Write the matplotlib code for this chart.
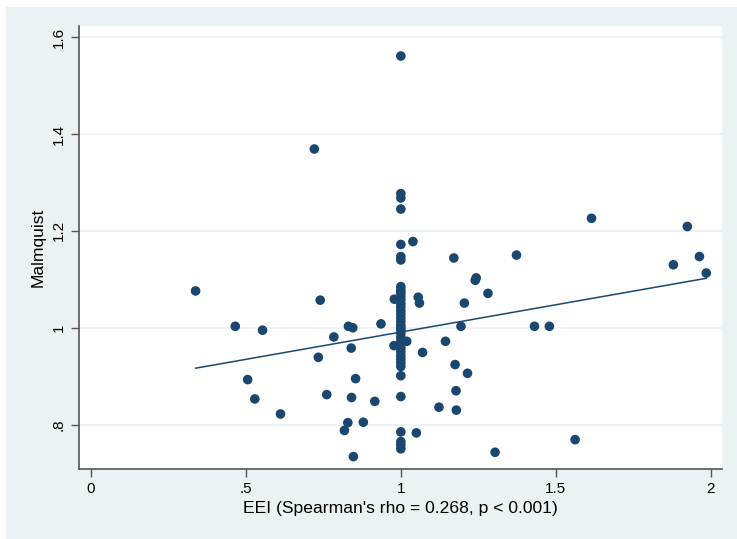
import matplotlib.pyplot as plt
import numpy as np
from matplotlib.patches import Rectangle

plt.rcParams["font.family"] = ["Liberation Sans", "DejaVu Sans"]

# EEI / Malmquist pairs
eei_scatter = [
    0.338, 0.466, 0.554, 0.506, 0.529, 0.612, 0.721, 0.740, 0.734, 0.784,
    0.831, 0.845, 0.840, 0.761, 0.854, 0.841, 0.916, 0.936, 0.829, 0.818,
    0.879, 0.847, 1.050, 1.056, 1.060, 1.070, 1.019, 1.144, 1.205, 1.194,
    1.171, 1.243, 1.240, 1.175, 1.215, 1.178, 1.123, 1.179, 1.039, 1.615,
    1.924, 1.963, 1.879, 1.985, 1.373, 1.281, 1.431, 1.479, 1.562, 1.304,
    0.979, 0.978,
]
malm_scatter = [
    1.076, 1.003, 0.995, 0.893, 0.853, 0.822, 1.369, 1.057, 0.939, 0.981,
    1.003, 1.000, 0.958, 0.862, 0.895, 0.856, 0.848, 1.008, 0.804, 0.788,
    0.805, 0.734, 0.783, 1.063, 1.051, 0.949, 0.972, 0.972, 1.051, 1.003,
    1.144, 1.103, 1.098, 0.924, 0.906, 0.870, 0.836, 0.830, 1.178, 1.226,
    1.209, 1.147, 1.130, 1.113, 1.150, 1.071, 1.003, 1.003, 0.769, 0.743,
    1.059, 0.963,
]
# units with EEI = 1
malm_at_one = [
    1.561, 1.277, 1.268, 1.245, 1.172, 1.147, 1.140, 1.085, 1.078, 1.072,
    1.065, 1.058, 1.050, 1.043, 1.035, 1.028, 1.020, 1.013, 1.005, 1.000,
    0.995, 0.988, 0.980, 0.972, 0.965, 0.958, 0.950, 0.942, 0.935, 0.928,
    0.920, 0.901, 0.858, 0.785, 0.765, 0.758, 0.750,
]

x_ticks = [0, 0.5, 1, 1.5, 2]
x_labels = ["0", ".5", "1", "1.5", "2"]
y_ticks = [0.8, 1.0, 1.2, 1.4, 1.6]
y_labels = [".8", "1", "1.2", "1.4", "1.6"]

x = np.array(eei_scatter + [1.0] * len(malm_at_one))
y = np.array(malm_scatter + malm_at_one)

navy = "#1a476f"
bg = "#eaf2f3"

fig = plt.figure(figsize=(7.37, 5.39), dpi=100)
fig.patches.append(Rectangle((6 / 737, 0), 1, 1 - 7 / 539, transform=fig.transFigure,
                             facecolor=bg, edgecolor="none", zorder=-10))
ax = fig.add_axes([0.1076, 0.1304, 0.8717, 0.8214])
ax.set_facecolor("white")

ax.scatter(x, y, s=48, color=navy, edgecolors="none", zorder=3)

# linear fit over the data range
slope, intercept = np.polyfit(x, y, 1)
xs = np.array([x.min(), x.max()])
ax.plot(xs, intercept + slope * xs, color=navy, lw=1.1, zorder=2)

ax.set_xlim(-0.037, 2.035)
ax.set_ylim(0.709, 1.623)
ax.set_xticks(x_ticks, x_labels)
ax.set_yticks(y_ticks, y_labels)
for lab in ax.get_yticklabels():
    lab.set_rotation(90)
    lab.set_va("center")
ax.tick_params(direction="out", length=6, width=1, color="#555555",
               labelsize=11, labelcolor="black")
ax.grid(axis="y", color=bg, lw=1.2)
ax.set_axisbelow(True)
for side in ["top", "right"]:
    ax.spines[side].set_visible(False)
for side in ["left", "bottom"]:
    ax.spines[side].set_color("#555555")
    ax.spines[side].set_linewidth(1.2)

ax.set_xlabel("EEI (Spearman's rho = 0.268, p < 0.001)", fontsize=12.6, labelpad=4)
ax.set_ylabel("Malmquist", fontsize=12.6, labelpad=5)

fig.savefig("out.png", dpi=100)
